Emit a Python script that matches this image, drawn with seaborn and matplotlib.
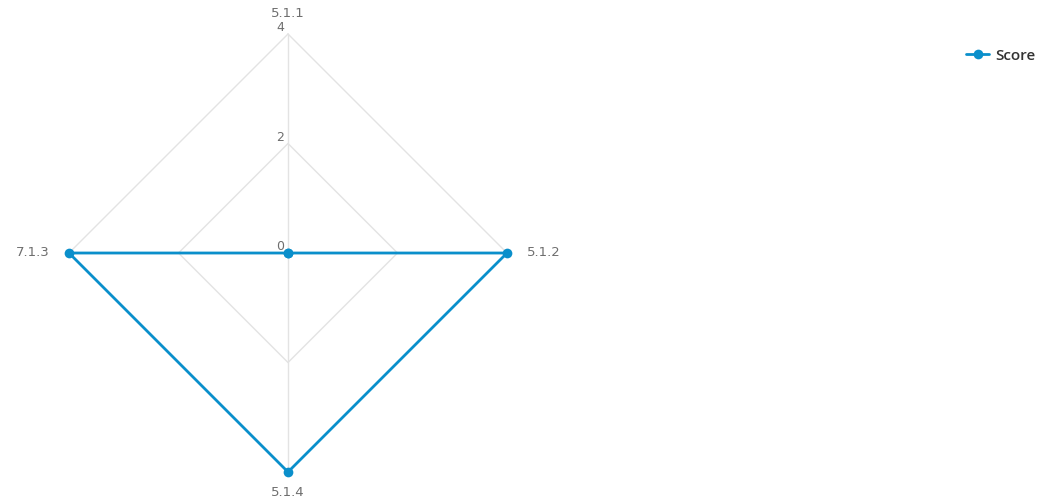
import numpy as np
import pandas as pd
import matplotlib
matplotlib.use("Agg")
import matplotlib.pyplot as plt
import seaborn as sns
from matplotlib.lines import Line2D

categories = ["5.1.1", "5.1.2", "5.1.4", "7.1.3"]
scores = [0, 4, 4, 4]
ticks = [0, 2, 4]
series_name = "Score"

sns.set_theme(style="white")
plt.rcParams["font.family"] = ["DejaVu Sans"]

W, H = 1043, 504
fig = plt.figure(figsize=(W / 100, H / 100), dpi=100)
cx, cy, R = 288, 253, 219
ax = fig.add_axes([(cx - R) / W, (H - cy - R) / H, 2 * R / W, 2 * R / H], projection="polar")
ax.set_theta_zero_location("N")
ax.set_theta_direction(-1)
ax.set_ylim(0, max(ticks))
ax.grid(False)
ax.spines["polar"].set_visible(False)
ax.set_xticks([])
ax.set_yticks([])
ax.patch.set_alpha(0)

n = len(categories)
angles = np.arange(n) * 2 * np.pi / n
grid_col = "#e3e3e3"
for t in ticks[1:]:
    ax.plot(np.append(angles, angles[0]), [t] * (n + 1), color=grid_col, lw=1, zorder=1, clip_on=False)
for a in angles:
    ax.plot([a, a], [0, ticks[-1]], color=grid_col, lw=1, zorder=1, clip_on=False)

color = "#0a8fcb"
df = pd.DataFrame({"angle": np.append(angles, angles[0]), "score": scores + [scores[0]]})
sns.lineplot(data=df, x="angle", y="score", sort=False, ax=ax, color=color, lw=2,
             marker="o", markersize=7, markeredgewidth=0, zorder=3, estimator=None,
             clip_on=False)
ax.set_xlabel("")
ax.set_ylabel("")

txt_col = "#6e6e6e"
# radial tick labels
for t in ticks:
    ax.annotate(str(t), xy=(0, t), xytext=(-3, 4.5), textcoords="offset points",
                ha="right", va="center", fontsize=9, color=txt_col, annotation_clip=False)

# category labels
offsets = [(0, 14.5, "center", "center"), (14, 0, "left", "center"),
           (0, -15, "center", "center"), (-14, 0, "right", "center")]
for a, lab, (dx, dy, ha, va) in zip(angles, categories, offsets):
    ax.annotate(lab, xy=(a, ticks[-1]), xytext=(dx, dy), textcoords="offset points",
                ha=ha, va=va, fontsize=9.5, color=txt_col, annotation_clip=False)

h = Line2D([], [], color=color, lw=2, marker="o", markersize=7, markeredgewidth=0)
fig.legend([h], [series_name], loc="upper right", bbox_to_anchor=(1.003, 1 - 38 / H),
           frameon=False, handlelength=1.5, handletextpad=0.4,
           prop={"family": ["Open Sans", "DejaVu Sans"], "size": 11, "weight": "semibold"},
           labelcolor="#333333", borderaxespad=0.3)

fig.savefig("out.png", dpi=100)
